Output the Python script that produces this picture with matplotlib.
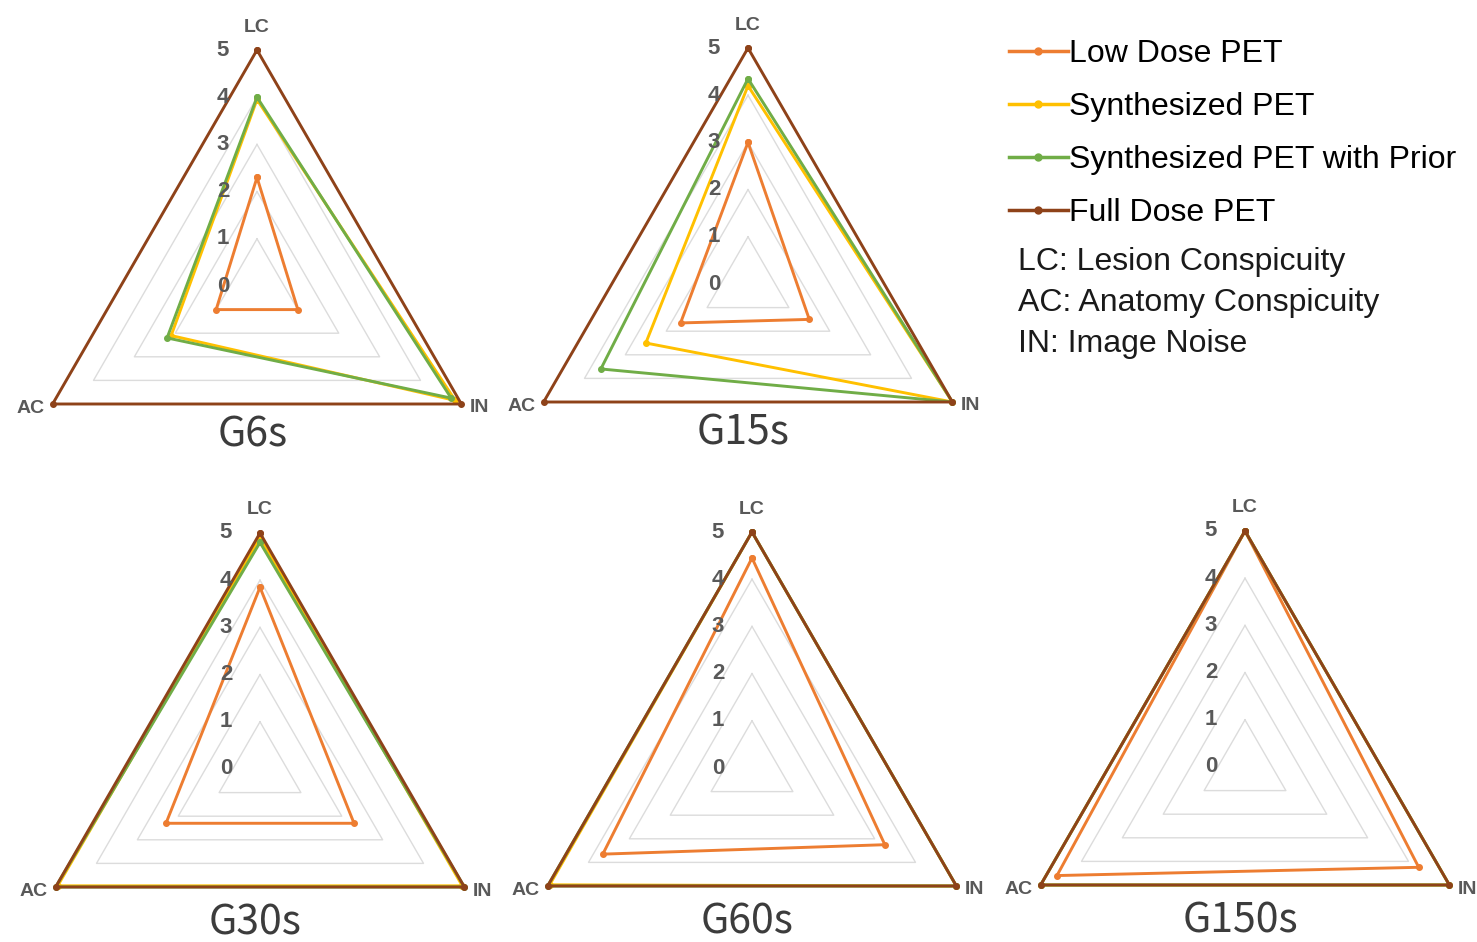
import numpy as np
import matplotlib
matplotlib.use("Agg")
import matplotlib.pyplot as plt
from matplotlib.lines import Line2D

# axes order around the triangle (clockwise from top)
axis_names = ["LC", "IN", "AC"]
groups = ["G6s", "G15s", "G30s", "G60s", "G150s"]
series = ["Low Dose PET", "Synthesized PET", "Synthesized PET with Prior", "Full Dose PET"]
colors = ["#ED7D31", "#FFC000", "#70AD47", "#8E4219"]
levels = [0, 1, 2, 3, 4, 5]
notes = ["LC: Lesion Conspicuity", "AC: Anatomy Conspicuity", "IN: Image Noise"]

# scores per group, values in order LC, IN, AC
low_dose = [[2.3, 1.0, 1.0], [3.0, 1.5, 1.65], [3.85, 2.3, 2.3], [4.45, 3.25, 3.65], [5.0, 4.25, 4.6]]
synth = [[3.95, 4.85, 2.1], [4.2, 5.0, 2.5], [4.9, 4.95, 4.95], [5.0, 5.0, 4.95], [5.0, 5.0, 5.0]]
synth_prior = [[4.0, 4.75, 2.2], [4.35, 5.0, 3.6], [4.8, 5.0, 5.0], [5.0, 5.0, 5.0], [5.0, 5.0, 5.0]]
full_dose = [[5.0, 5.0, 5.0], [5.0, 5.0, 5.0], [5.0, 5.0, 5.0], [5.0, 5.0, 5.0], [5.0, 5.0, 5.0]]
all_series = [low_dose, synth, synth_prior, full_dose]

W, H = 1477, 942
fig = plt.figure(figsize=(W / 100, H / 100), dpi=100)

# chart centres in pixels (from top-left) and radius of level 5
centres = [(257, 286), (748, 284), (260, 769), (752, 768), (1245, 767)]
title_y = [0.185, 0.185, 0.174, 0.174, 0.174]
R = 236

angles = np.linspace(0, 2 * np.pi, len(axis_names), endpoint=False)
closed = np.append(angles, angles[0])
label_gray = "#595959"

for g, (cx, cy) in enumerate(centres):
    ax = fig.add_axes([(cx - R) / W, (H - cy - R) / H, 2 * R / W, 2 * R / H], projection="polar")
    ax.set_theta_offset(np.pi / 2)
    ax.set_theta_direction(-1)
    ax.set_ylim(0, 5)
    ax.grid(False)
    ax.set_xticks([])
    ax.set_yticks([])
    ax.spines["polar"].set_visible(False)
    ax.patch.set_alpha(0)

    # triangular grid
    for lv in levels[1:]:
        ax.plot(closed, [lv] * len(closed), color="#dcdcdc", lw=1.0, zorder=1, clip_on=False)

    for s, data in enumerate(all_series):
        vals = np.append(data[g], data[g][0])
        ax.plot(closed, vals, color=colors[s], lw=2.1, marker="o", ms=4,
                zorder=2 + s, clip_on=False)

    # tick labels along LC axis
    for lv in levels:
        ax.annotate(str(lv), xy=(0, lv), xytext=(-34, 0), textcoords="offset pixels",
                    ha="center", va="center", fontsize=16, fontweight="bold",
                    color=label_gray, family="Liberation Sans", zorder=10)

    # axis names
    offsets = {"LC": ((0, 23), "center"),
               "IN": ((8, -4), "left"),
               "AC": ((-8, -4), "right")}
    for name, ang in zip(axis_names, angles):
        off, ha = offsets[name]
        ax.annotate(name, xy=(ang, 5), xytext=off, textcoords="offset pixels",
                    ha=ha, va="center", fontsize=14, fontweight="bold",
                    color=label_gray, family="Liberation Sans")

    ax.text(0.49, title_y[g], groups[g], transform=ax.transAxes, ha="center", va="center",
            fontsize=29.5, color="#3c3c3c", family=["Noto Sans CJK SC", "DejaVu Sans"],
            fontweight="light")

handles = [Line2D([0], [0], color=c, lw=2.5, marker="o", ms=5) for c in colors]
fig.legend(handles, series, loc="upper left", bbox_to_anchor=(996 / W, 1 - 26 / H),
           frameon=False, prop={"family": "Liberation Sans", "size": 23},
           handlelength=1.85, handletextpad=0.05, labelspacing=0.72, borderaxespad=0)

for i, t in enumerate(notes):
    fig.text(1018 / W, 1 - (262 + 41 * i) / H, t, ha="left", va="center",
             fontsize=23, family="Liberation Sans", color="#1a1a1a")

fig.savefig("out.png", dpi=100)
